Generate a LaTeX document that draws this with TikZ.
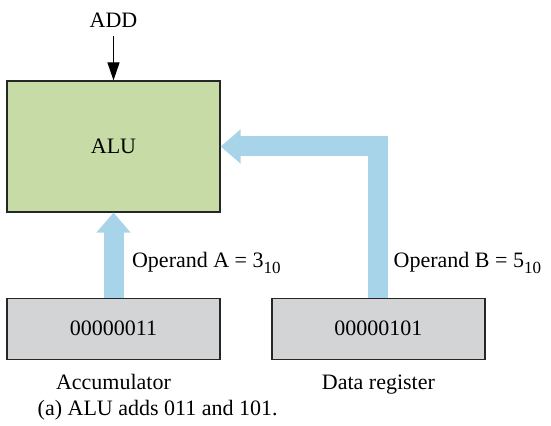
\documentclass[tikz,border=0pt]{standalone}
\usepackage{fontspec}
\setmainfont{Liberation Serif}
\usetikzlibrary{positioning,arrows.meta}

\definecolor{alugreen}{RGB}{198,219,165}
\definecolor{reggray}{RGB}{211,212,214}
\definecolor{busblue}{RGB}{168,212,233}

\newcommand{\basesub}[1]{\raisebox{-2.6pt}{\fontsize{8.5pt}{9pt}\selectfont #1}}

\tikzstyle{alubox} = [rectangle, minimum width=106.5pt, minimum height=65.5pt, text centered, draw=black!85, line width=0.6pt, fill=alugreen]
\tikzstyle{regbox} = [rectangle, minimum width=106.5pt, minimum height=30.5pt, text centered, draw=black!85, line width=0.6pt, fill=reggray]
\tikzstyle{regname} = [text height=8pt, text depth=2.5pt, inner sep=1pt]
\tikzstyle{bus} = [draw=busblue, line width=10pt, -{Triangle[width=16.5pt,length=10pt]}]
\tikzstyle{ctrl} = [line width=0.6pt, -{Triangle[width=6pt,length=9pt]}]

\begin{document}
\begin{tikzpicture}[node distance=1.1cm, font=\fontsize{11pt}{13pt}\selectfont]
\useasboundingbox (0,0) rectangle (275.5pt,213pt);

\node (alu) [alubox] at (56.75pt,139.75pt) {ALU};

\node (add) [regname, inner sep=1.5pt, above=22pt of alu] {ADD};

\node (acc) [regbox, below=42.5pt of alu] {00000011};

\node (dreg) [regbox, right=25.35pt of acc] {00000101};

\node (accname) [regname, below=5.5pt of acc] {Accumulator};

\node (dregname) [regname, below=5.5pt of dreg] {Data register};

\node (opa) [anchor=base west, inner sep=0pt] at (65.85pt,79pt) {Operand A = 3\basesub{10}};

\node (opb) [anchor=base west, inner sep=0pt] at (196.65pt,79pt) {Operand B = 5\basesub{10}};

\node (caption) [anchor=base west, inner sep=0pt] at (18.65pt,5pt) {(a) ALU adds 011 and 101.};

\draw [ctrl] (add) -- (alu);
\draw [bus] (acc) -- (alu);
\draw [bus] (dreg.north) |- (alu.east);
\end{tikzpicture}
\end{document}
